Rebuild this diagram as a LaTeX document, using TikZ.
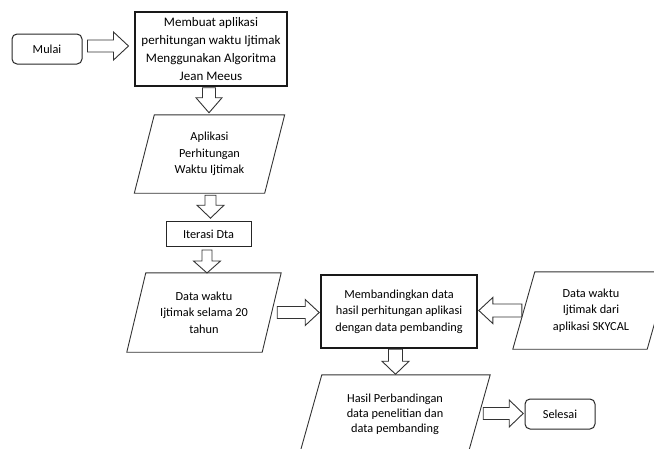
\documentclass[tikz,border=0pt]{standalone}
\usepackage{fontspec}
\setmainfont{Carlito}
\usetikzlibrary{calc}
\tikzset{
  txt/.style={align=center, inner sep=0pt, text=black, font=\fontsize{12.3}{16.5}\selectfont},
  term/.style={txt, draw=black!85, line width=1pt, rounded corners=5pt, minimum width=70pt, minimum height=30pt},
  proc/.style={txt, draw=black!90, line width=1.5pt},
  plain/.style={txt, draw=black!85, line width=1pt},
  io/.style={txt},
  paraline/.style={draw=black!80, line width=0.9pt},
  blk/.style={draw=black!80, line width=0.9pt, fill=white},
  pics/barr/.style n args={4}{code={
    \draw[blk] (0,-#2) -- (#1-#4,-#2) -- (#1-#4,-#3) -- (#1,0) -- (#1-#4,#3) -- (#1-#4,#2) -- (0,#2) -- cycle;
  }}
}
\newcommand\para[2]{\draw[paraline] ([xshift=#2]#1.north west) -- ([xshift=#2]#1.north east) -- ([xshift=-#2]#1.south east) -- ([xshift=-#2]#1.south west) -- cycle;}
\begin{document}
\begin{tikzpicture}[x=1pt,y=-1pt]
\clip (0,0) rectangle (654,448);
\useasboundingbox (0,0) rectangle (654,448);
% nodes
\node[term] (mulai) at (47,49) {Mulai};
\node[proc, minimum width=152pt, minimum height=74pt, font=\fontsize{13}{18}\selectfont] (b1) at (211,49) {Membuat aplikasi\\perhitungan waktu Ijtimak\\Menggunakan Algoritma\\Jean Meeus};
\node[io, minimum width=130pt, minimum height=78pt] (p1) at (209.5,154) {Aplikasi\\Perhitungan\\Waktu Ijtimak};
\para{p1}{10}
\node[plain, minimum width=85pt, minimum height=25pt] (it) at (208.5,234) {Iterasi Dta};
\node[io, minimum width=135pt, minimum height=79pt] (p2) at (204,312.5) {Data waktu\\Ijtimak selama 20\\tahun};
\para{p2}{9.5}
\node[proc, minimum width=156pt, minimum height=73pt] (cmp) at (399,311.5) {Membandingkan data\\hasil perhitungan aplikasi\\dengan data pembanding};
\node[io, minimum width=134pt, minimum height=77pt] (p3) at (591,310.5) {Data waktu\\Ijtimak dari\\aplikasi SKYCAL};
\para{p3}{11}
\node[io, minimum width=168pt, minimum height=78pt, font=\fontsize{12.3}{15}\selectfont] (p4) at (395,414) {Hasil Perbandingan\\data penelitian dan\\data pembanding};
\para{p4}{11}
\node[term] (sel) at (560,414) {Selesai};
% block arrows
\pic at ($(mulai.east)+(5,-3)$) {barr={41}{6}{14}{15}};
\pic[rotate=-90] at ($(b1.south)+(-2,1)$) {barr={25}{6.5}{13}{15}};
\pic[rotate=-90] at ($(p1.south)+(1,2)$) {barr={23}{5.5}{13.5}{13}};
\pic[rotate=-90] at ($(it.south)+(-1.5,3)$) {barr={23}{5}{13.5}{12}};
\pic at ($(p2.east)+(5.5,0)$) {barr={42}{6}{13}{14}};
\pic[rotate=180] at ($(p3.west)+(-2,0)$) {barr={43}{6.5}{13}{14}};
\pic[rotate=-90] at ($(cmp.south)+(-3.5,0.5)$) {barr={25}{7}{13.5}{13}};
\pic at ($(p4.east)+(4,-0.5)$) {barr={40}{6}{13.5}{14}};
\end{tikzpicture}
\end{document}
